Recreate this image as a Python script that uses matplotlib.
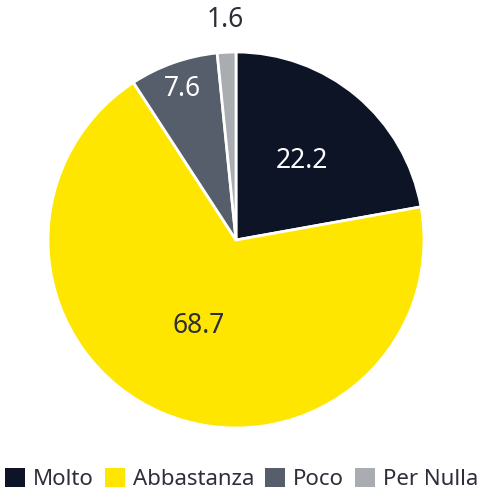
import numpy as np
import matplotlib
matplotlib.use('Agg')
import matplotlib.pyplot as plt
from matplotlib.patches import Patch

#%% data
labels = ['Molto', 'Abbastanza', 'Poco', 'Per Nulla']
values = [22.2, 68.7, 7.6, 1.6]
colors = ['#0c1426', '#ffe600', '#555e6a', '#a9adb2']
txt_colors = ['white', '#2e2e38', 'white', '#2e2e38']
txt_r = [0.55, 0.50, 0.85, 1.17]

plt.rcParams['font.family'] = ['Noto Sans', 'DejaVu Sans']

fig = plt.figure(figsize=(4.83, 4.93), dpi=100)
R = 188
cx, cy = 236, 240
ax = fig.add_axes([(cx - R) / 483, (493 - cy - R) / 493, 2 * R / 483, 2 * R / 493])

wedges, _ = ax.pie(values, colors=colors, startangle=90, counterclock=False,
                   wedgeprops=dict(edgecolor='white', linewidth=2))
ax.set_xlim(-1, 1)
ax.set_ylim(-1, 1)
ax.set_aspect('auto')

for w, v, c, r in zip(wedges, values, txt_colors, txt_r):
    ang = np.deg2rad((w.theta1 + w.theta2) / 2)
    ax.text(r * np.cos(ang), r * np.sin(ang), '%.1f' % v, ha='center', va='center',
            fontsize=19, color=c, clip_on=False)

handles = [Patch(facecolor=c, edgecolor='none') for c in colors]
fig.legend(handles, labels, loc='center', bbox_to_anchor=(0.5, 1 - 479 / 493), ncol=4,
           frameon=False, fontsize=16, handlelength=0.9, handleheight=0.9,
           handletextpad=0.35, columnspacing=0.5, labelcolor='#2e2e38', borderaxespad=0)

fig.savefig('out.png', dpi=100)
